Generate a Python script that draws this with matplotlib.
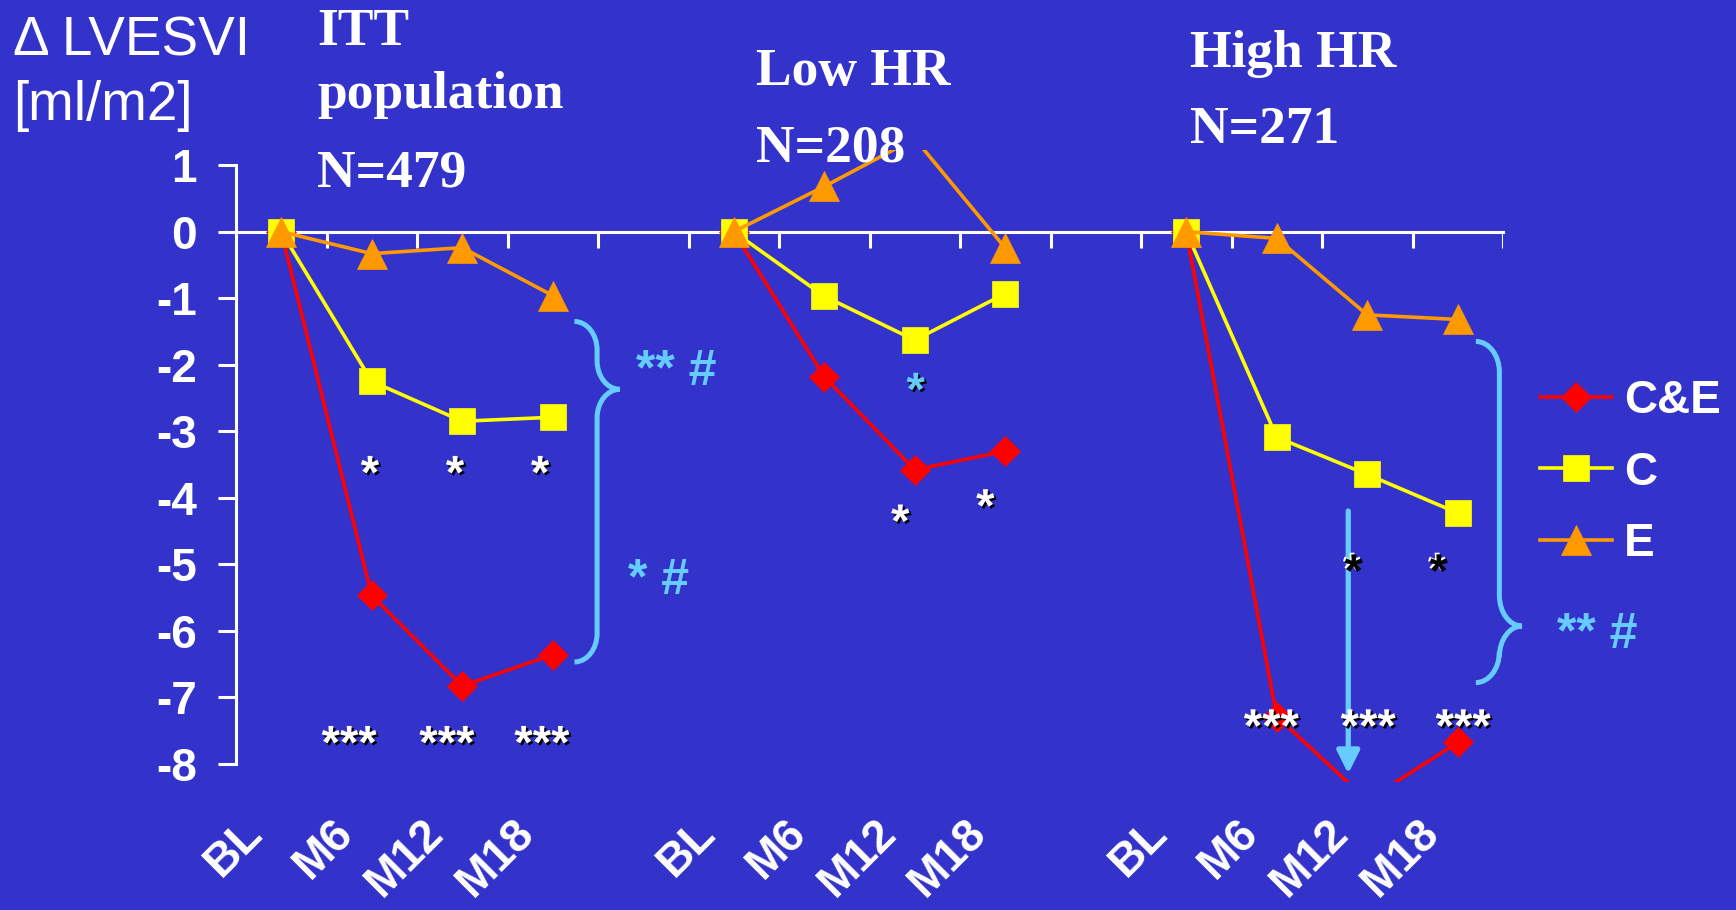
import matplotlib
matplotlib.use("Agg")
import matplotlib.pyplot as plt
import matplotlib.patheffects as pe
from matplotlib.path import Path
from matplotlib.patches import PathPatch
import numpy as np

W, H = 1736, 910
BG = "#3333CC"
CYAN = "#66CCFF"
SANS = ["Liberation Sans", "DejaVu Sans"]
SERIF = ["Liberation Serif", "DejaVu Serif"]

# ---- data ----
timepoints = ["BL", "M6", "M12", "M18"]
series_names = ["C&E", "C", "E"]
series_colors = ["#FF0000", "#FFFF00", "#FF9900"]
series_markers = ["D", "s", "^"]
series_msize = [15, 19, 21.5]

ce_itt = [0, -5.47, -6.83, -6.36]
c_itt = [0, -2.25, -2.85, -2.79]
e_itt = [0, -0.33, -0.24, -0.96]

ce_low = [0, -2.18, -3.58, -3.30]
c_low = [0, -0.97, -1.63, -0.93]
e_low = [0, 0.68, 1.40, -0.245]

ce_high = [0, -7.29, -8.55, -7.68]
c_high = [0, -3.09, -3.65, -4.23]
e_high = [0, -0.10, -1.25, -1.32]

groups = [(ce_itt, c_itt, e_itt), (ce_low, c_low, e_low), (ce_high, c_high, e_high)]
group_offsets = [0, 5, 10]
n_slots = 14
y_ticks = list(range(-8, 2))
y_tick_labels = [str(v) for v in y_ticks]
YLO, YHI = -8.27, 1.23

# ---- figure ----
fig = plt.figure(figsize=(W / 100, H / 100), dpi=100, facecolor=BG)
ax = fig.add_axes([236 / W, 1 - 781.7 / H, 1267 / W, (781.7 - 149.9) / H], facecolor=BG)
ax.set_xlim(-0.5, n_slots - 0.5)
ax.set_ylim(YLO, YHI)

for sp in ["top", "right", "bottom"]:
    ax.spines[sp].set_visible(False)
ax.spines["left"].set_color("white")
ax.spines["left"].set_linewidth(2.2)
ax.spines["left"].set_bounds(-8, 1)
ax.set_xticks([])
ax.set_yticks(y_ticks)
ax.set_yticklabels(y_tick_labels, fontsize=33, fontweight="bold", family=SANS, color="white")
ax.tick_params(axis="y", length=13, width=2.2, color="white", pad=15)

# horizontal zero line with category-boundary ticks
ax.plot([-0.5, n_slots - 0.5], [0, 0], color="white", lw=2.2, zorder=2, clip_on=False)
ax.vlines(np.arange(0.5, n_slots), -0.25, 0, color="white", lw=2.2, zorder=2)

handles = []
for g, (off, vals) in enumerate(zip(group_offsets, groups)):
    xs = np.arange(len(timepoints)) + off
    for k, v in enumerate(vals):
        shown = [i for i, val in enumerate(v) if YLO <= val <= YHI]
        ln, = ax.plot(xs, v, color=series_colors[k], lw=2.6, marker=series_markers[k],
                      ms=series_msize[k], mec=series_colors[k], mew=0.5, zorder=3 + k,
                      markevery=shown, label=series_names[k] if g == 0 else None)
        if g == 0:
            handles.append(ln)
    for i, t in enumerate(timepoints):
        ax.text(xs[i] - 0.45, -8.7, t, rotation=45, rotation_mode="anchor", ha="right",
                va="top", fontsize=33, fontweight="bold", family=SANS, color="white",
                clip_on=False)

leg = ax.legend(handles=handles, loc="upper left", bbox_to_anchor=(1540 / W, 1 - 379 / H),
                bbox_transform=fig.transFigure, frameon=False, borderpad=0, borderaxespad=0,
                handlelength=1.57, handletextpad=0.26, labelspacing=0.6,
                prop={"family": SANS, "weight": "bold", "size": 33})
for txt in leg.get_texts():
    txt.set_color("white")


# ---- braces and arrow ----
def brace(x_end, x_spine, x_tip, y_top, y_tip, y_bot, r):
    k = 0.552
    a = x_spine - x_end
    b = x_tip - x_spine
    verts = [(x_end, y_top),
             (x_end + k * a, y_top), (x_spine, y_top - (1 - k) * r), (x_spine, y_top - r),
             (x_spine, y_tip + r),
             (x_spine, y_tip + (1 - k) * r), (x_tip - k * b, y_tip), (x_tip, y_tip),
             (x_tip - k * b, y_tip), (x_spine, y_tip - (1 - k) * r), (x_spine, y_tip - r),
             (x_spine, y_bot + r),
             (x_spine, y_bot + (1 - k) * r), (x_end + k * a, y_bot), (x_end, y_bot)]
    codes = [Path.MOVETO] + [Path.CURVE4] * 3 + [Path.LINETO] + [Path.CURVE4] * 6 \
        + [Path.LINETO] + [Path.CURVE4] * 3
    ax.add_patch(PathPatch(Path(verts, codes), fill=False, edgecolor=CYAN, lw=3.6,
                           clip_on=False, zorder=6))


brace(3.24, 3.49, 3.74, -1.35, -2.37, -6.47, 0.43)
brace(13.20, 13.46, 13.71, -1.65, -5.93, -6.78, 0.46)

ax.annotate("", xy=(11.79, -8.15), xytext=(11.79, -4.2),
            arrowprops=dict(arrowstyle="-|>,head_length=0.4,head_width=0.2",
                            color=CYAN, lw=3.8, mutation_scale=34, shrinkA=0, shrinkB=0),
            zorder=6)

# ---- significance marks: (x, visual centre y, text, colour, shadow colour) ----
stars = [
    (0.98, -3.53, "*", "white", "black"), (1.92, -3.53, "*", "white", "black"),
    (2.86, -3.53, "*", "white", "black"),
    (0.75, -7.59, "***", "white", "black"), (1.83, -7.59, "***", "white", "black"),
    (2.88, -7.59, "***", "white", "black"),
    (7.01, -2.28, "*", CYAN, "black"),
    (6.84, -4.26, "*", "white", "black"), (7.78, -4.03, "*", "white", "black"),
    (11.85, -5.01, "*", "black", "white"), (12.79, -5.01, "*", "black", "white"),
    (10.94, -7.34, "***", "white", "black"), (12.01, -7.34, "***", "white", "black"),
    (13.06, -7.34, "***", "white", "black"),
]
for x, y, s, col, sh in stars:
    off = (1.5, -1.5) if sh == "black" else (-1.2, 1.2)
    ax.text(x, y - 0.33, s, ha="center", va="baseline", fontsize=34, fontweight="bold",
            family=SANS, color=col, zorder=10, clip_on=False,
            path_effects=[pe.withSimplePatchShadow(offset=off, shadow_rgbFace=sh, alpha=1.0)])

notes = [(3.92, -2.31, "** #"), (3.83, -5.45, "* #"), (14.10, -6.255, "** #")]
for x, y, s in notes:
    ax.text(x, y, s, ha="left", va="baseline", fontsize=36, fontweight="bold",
            family=SANS, color=CYAN, zorder=10, clip_on=False)

# ---- headings ----
fig.text(13 / W, 1 - 55 / H, "\u0394 LVESVI", fontsize=39.5, family=SANS, color="white",
         va="baseline")
fig.text(13 / W, 1 - 120 / H, "[ml/m2]", fontsize=39.5, family=SANS, color="white",
         va="baseline")

titles = [(317, 45, "ITT"), (317, 108, "population"), (317, 187, "N=479"),
          (756, 85, "Low HR"), (756, 162, "N=208"),
          (1190, 67, "High HR"), (1190, 143, "N=271")]
for x, y, s in titles:
    fig.text(x / W, 1 - y / H, s, fontsize=38.5, fontweight="bold", family=SERIF,
             color="white", va="baseline")

fig.savefig("out.png", dpi=100, facecolor=BG)
